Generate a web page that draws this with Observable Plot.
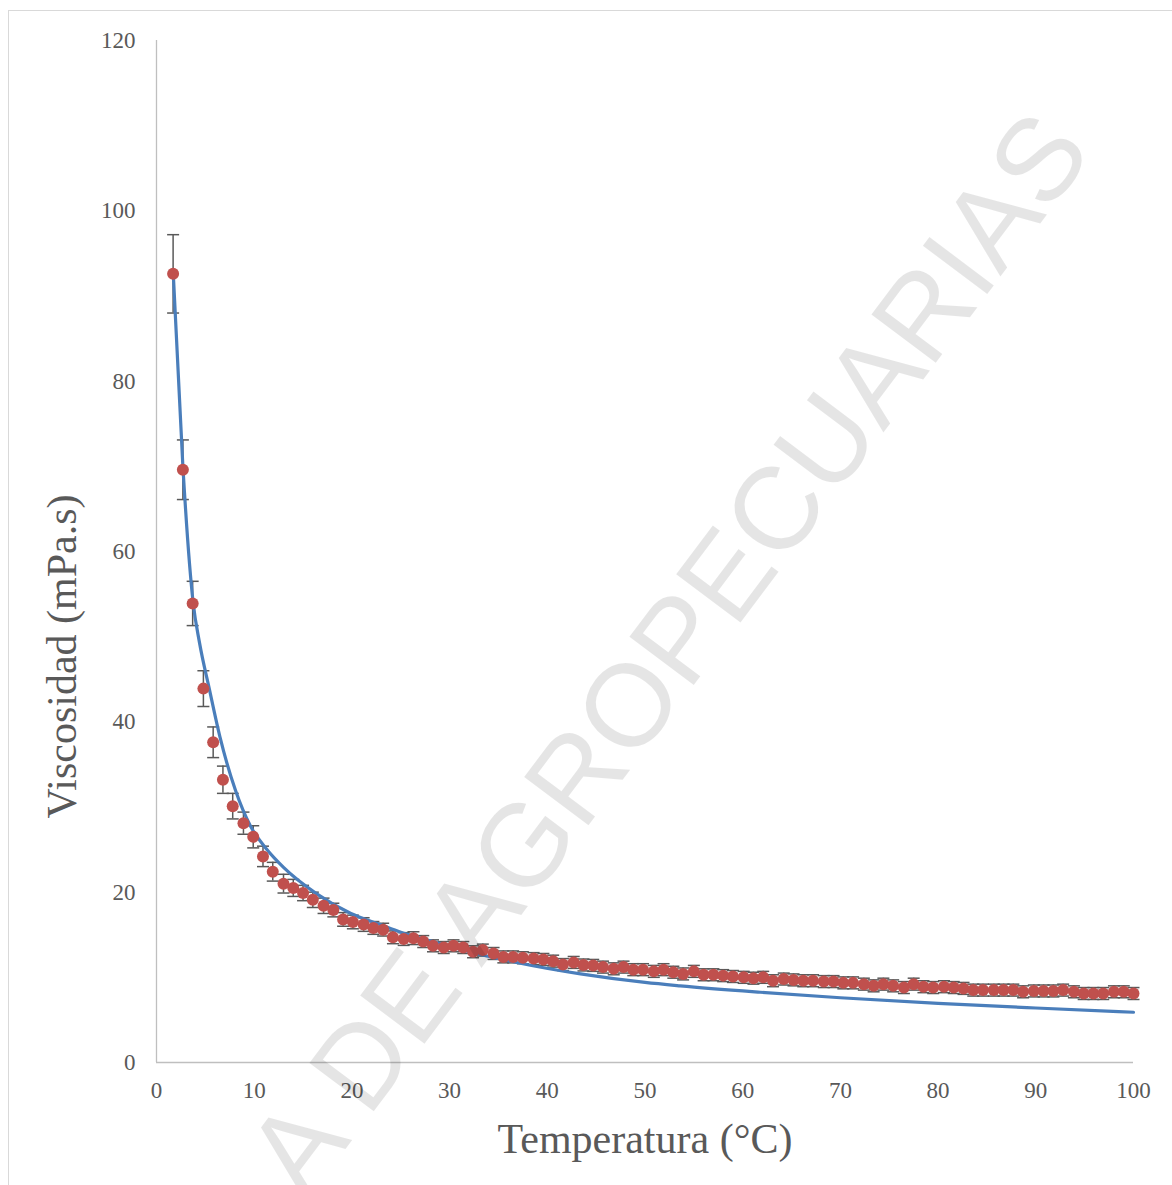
<!DOCTYPE html>
<html>
<head>
<meta charset="utf-8">
<script src="https://cdn.jsdelivr.net/npm/d3@7"></script>
<script src="https://cdn.jsdelivr.net/npm/@observablehq/plot@0.6"></script>
<style>
  html, body { margin: 0; padding: 0; background: #fff; }
  #wrap { position: relative; width: 1172px; height: 1185px; overflow: hidden; }
  #border { position: absolute; left: 8px; top: 10px; width: 1180px; height: 1200px; border: 1px solid #d9d9d9; pointer-events: none; }
  #wm { position: absolute; left: 0; top: 0; pointer-events: none; }
</style>
</head>
<body>
<div id="wrap">
  <div id="chart"></div>
  <div id="border"></div>
  <svg id="wm" width="1172" height="1185">
    <text x="0" y="0" transform="translate(1094,152) rotate(-53.1)" text-anchor="end"
      font-family="Liberation Sans, Arial, sans-serif" font-size="117" fill="rgba(0,0,0,0.1)">A DE AGROPECUARIAS</text>
  </svg>
</div>
<script>
// ---- data ----
const xTicks = [0, 10, 20, 30, 40, 50, 60, 70, 80, 90, 100];
const yTicks = [0, 20, 40, 60, 80, 100, 120];

// measured temperatures (°C)
const temperatura = [
  1.7, 2.7, 3.7, 4.8, 5.8, 6.8, 7.8, 8.9, 9.9, 10.9,
  11.9, 13.0, 14.0, 15.0, 16.0, 17.1, 18.1, 19.1, 20.1, 21.2,
  22.2, 23.2, 24.2, 25.3, 26.3, 27.3, 28.3, 29.4, 30.4, 31.4,
  32.4, 33.4, 34.5, 35.5, 36.5, 37.5, 38.6, 39.6, 40.6, 41.6,
  42.7, 43.7, 44.7, 45.7, 46.8, 47.8, 48.8, 49.8, 50.9, 51.9,
  52.9, 53.9, 55.0, 56.0, 57.0, 58.0, 59.0, 60.1, 61.1, 62.1,
  63.1, 64.2, 65.2, 66.2, 67.2, 68.3, 69.3, 70.3, 71.3, 72.4,
  73.4, 74.4, 75.4, 76.5, 77.5, 78.5, 79.5, 80.6, 81.6, 82.6,
  83.6, 84.6, 85.7, 86.7, 87.7, 88.7, 89.8, 90.8, 91.8, 92.8,
  93.9, 94.9, 95.9, 96.9, 98.0, 99.0, 100.0
];
// measured viscosity (mPa.s)
const viscosidad = [
  92.6, 69.6, 53.9, 43.9, 37.6, 33.2, 30.1, 28.1, 26.5, 24.2,
  22.4, 21.0, 20.5, 19.9, 19.1, 18.4, 17.9, 16.8, 16.5, 16.2,
  15.8, 15.6, 14.7, 14.5, 14.6, 14.2, 13.7, 13.5, 13.7, 13.5,
  13.0, 13.2, 12.8, 12.4, 12.4, 12.3, 12.2, 12.1, 11.9, 11.5,
  11.75, 11.45, 11.4, 11.2, 11.0, 11.2, 10.9, 10.9, 10.7, 10.9,
  10.6, 10.4, 10.7, 10.3, 10.3, 10.2, 10.1, 10.0, 9.9, 10.0,
  9.6, 9.8, 9.7, 9.6, 9.6, 9.5, 9.5, 9.35, 9.35, 9.2,
  9.0, 9.2, 9.0, 8.8, 9.2, 8.9, 8.8, 8.9, 8.8, 8.7,
  8.5, 8.5, 8.5, 8.5, 8.5, 8.3, 8.4, 8.4, 8.4, 8.5,
  8.3, 8.1, 8.1, 8.1, 8.3, 8.3, 8.1
];
// error bar half-lengths (mPa.s)
const error = [
  4.6, 3.5, 2.6, 2.1, 1.8, 1.6, 1.5, 1.3, 1.3, 1.2,
  1.1, 1.1, 1.0, 0.9, 0.9, 0.9, 0.8, 0.8, 0.8, 0.8,
  0.75, 0.75, 0.75, 0.75, 0.75, 0.7, 0.7, 0.7, 0.7, 0.7,
  0.7, 0.7, 0.7, 0.7, 0.7, 0.7, 0.7, 0.7, 0.7, 0.7,
  0.7, 0.7, 0.7, 0.7, 0.7, 0.7, 0.7, 0.7, 0.7, 0.7,
  0.7, 0.7, 0.7, 0.7, 0.7, 0.7, 0.7, 0.7, 0.7, 0.7,
  0.7, 0.7, 0.7, 0.7, 0.7, 0.7, 0.7, 0.7, 0.7, 0.7,
  0.7, 0.7, 0.7, 0.7, 0.7, 0.7, 0.7, 0.7, 0.7, 0.7,
  0.7, 0.7, 0.7, 0.7, 0.7, 0.7, 0.7, 0.7, 0.7, 0.7,
  0.7, 0.7, 0.7, 0.7, 0.7, 0.7, 0.7
];
// fitted model curve
const ajusteT = [1.7, 2.7, 3.75, 4.4, 5.4, 6.5, 8.1, 9.6, 11.3, 13.0, 16.4, 19.9, 22.9, 25.0, 28.0, 32.0, 36.6, 43.4, 50.0, 53.6, 61.8, 70, 80, 90, 100];
const ajusteV = [93, 70, 54, 49.3, 43.9, 38.2, 31.9, 27.8, 25.0, 22.9, 19.8, 17.5, 16.2, 15.3, 14.3, 13.0, 11.8, 10.4, 9.4, 9.0, 8.25, 7.6, 6.95, 6.4, 5.9];

const xLabel = "Temperatura (°C)";
const yLabel = "Viscosidad (mPa.s)";

// ---- build tables ----
const rows = temperatura.map((t, i) => ({t, v: viscosidad[i], lo: viscosidad[i] - error[i], hi: viscosidad[i] + error[i]}));
const fit = ajusteT.map((t, i) => ({t, v: ajusteV[i]}));

const cap = { draw(ctx) { ctx.moveTo(-6, 0); ctx.lineTo(6, 0); } };

const gray = "#595959";
const chart = Plot.plot({
  width: 1172,
  height: 1185,
  marginLeft: 156,
  marginRight: 39,
  marginTop: 40,
  marginBottom: 123,
  style: { fontFamily: "'Liberation Serif', 'Times New Roman', serif", background: "transparent", color: gray },
  x: { domain: [0, 100] },
  y: { domain: [0, 120] },
  marks: [
    Plot.ruleY([0], { stroke: "#bfbfbf", strokeWidth: 1.3 }),
    Plot.ruleX([0], { stroke: "#bfbfbf", strokeWidth: 1.3 }),
    Plot.axisX(xTicks, { tickSize: 0, tickPadding: 19, fontSize: 23, fill: gray, label: null }),
    Plot.axisY(yTicks, { tickSize: 0, tickPadding: 21, fontSize: 23, fill: gray, label: null }),
    Plot.text([xLabel], { frameAnchor: "bottom", dy: 77, fontSize: 42, fill: gray, lineAnchor: "middle", textAnchor: "middle" }),
    Plot.text([yLabel], { frameAnchor: "left", dx: -94, dy: 105, rotate: -90, fontSize: 42, fill: gray, lineAnchor: "middle", textAnchor: "middle" }),
    Plot.ruleX(rows, { x: "t", y1: "lo", y2: "hi", stroke: gray, strokeWidth: 1.5 }),
    Plot.dot(rows, { x: "t", y: "hi", symbol: cap, stroke: gray, strokeWidth: 1.5, fill: "none" }),
    Plot.dot(rows, { x: "t", y: "lo", symbol: cap, stroke: gray, strokeWidth: 1.5, fill: "none" }),
    Plot.line(fit, { x: "t", y: "v", stroke: "#4a7ebb", strokeWidth: 3.2, curve: "monotone-x" }),
    Plot.dot(rows, { x: "t", y: "v", r: 6, fill: "#c0504d", stroke: "none" })
  ]
});
document.getElementById("chart").appendChild(chart);
</script>
</body>
</html>
